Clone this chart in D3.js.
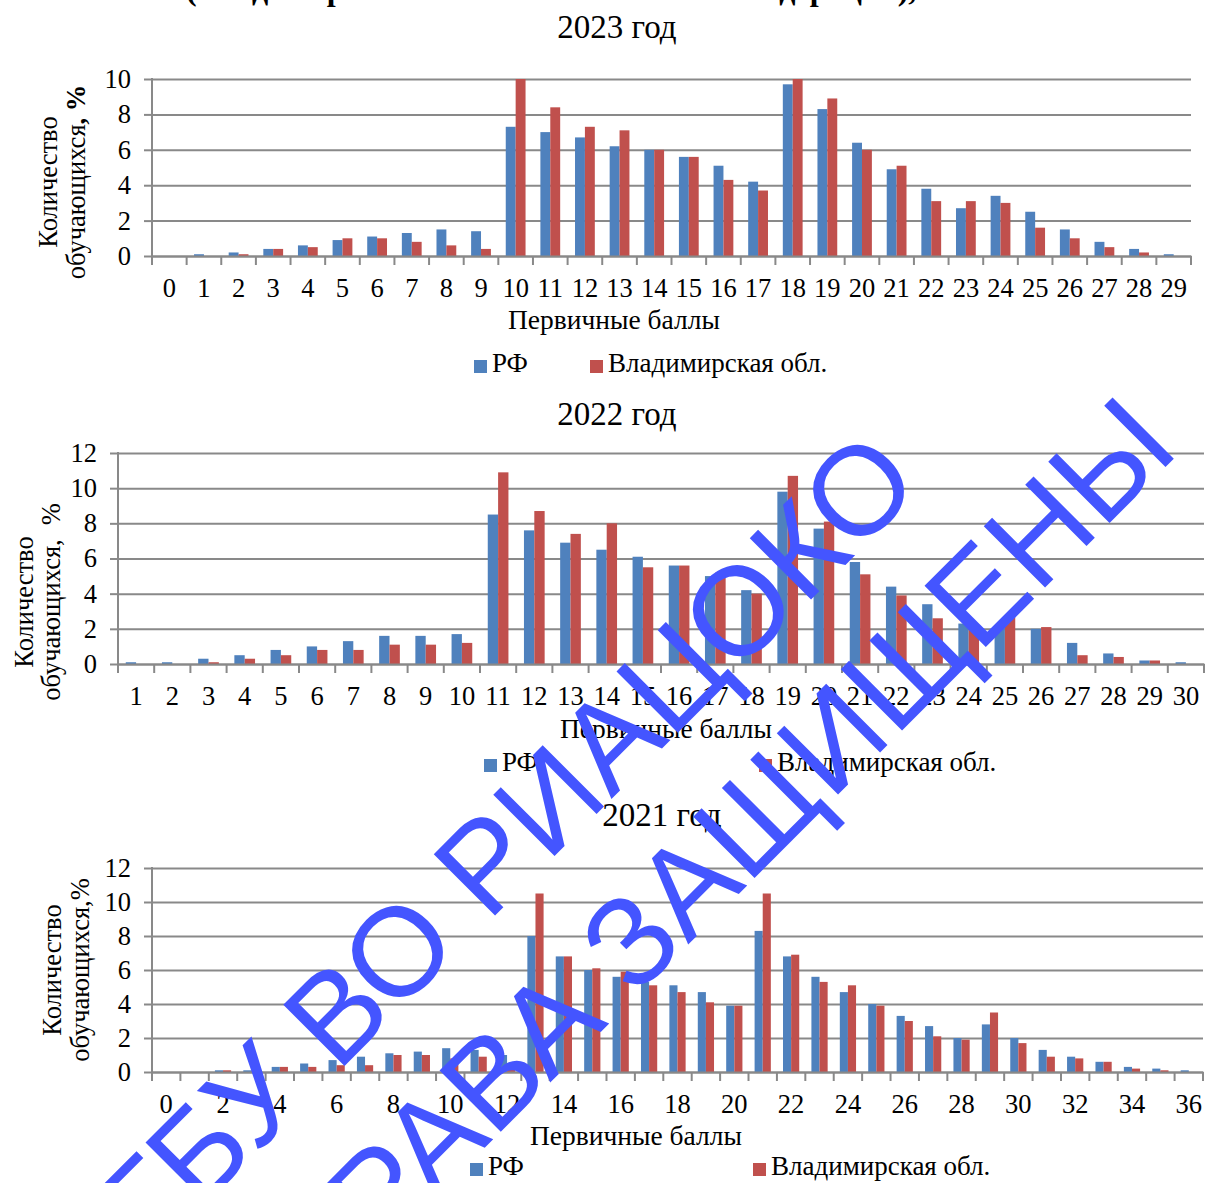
<!DOCTYPE html>
<html><head><meta charset="utf-8">
<script src="https://cdn.jsdelivr.net/npm/d3@7"></script>
<style>body{margin:0;background:#fff}svg{display:block}</style>
</head><body>
<svg id="c" width="1206" height="1183"></svg>
<script>
// ---------------- data ----------------
const seriesNames = ["РФ", "Владимирская обл."];
const chartTitles = ["2023 год", "2022 год", "2021 год"];
const xAxisTitle = "Первичные баллы";

const scores2023 = [0,1,2,3,4,5,6,7,8,9,10,11,12,13,14,15,16,17,18,19,20,21,22,23,24,25,26,27,28,29];
const rf2023   = [0,0.1,0.2,0.4,0.6,0.9,1.1,1.3,1.5,1.4,7.3,7.0,6.7,6.2,6.0,5.6,5.1,4.2,9.7,8.3,6.4,4.9,3.8,2.7,3.4,2.5,1.5,0.8,0.4,0.1];
const vlad2023 = [0,0,0.1,0.4,0.5,1.0,1.0,0.8,0.6,0.4,10.0,8.4,7.3,7.1,6.0,5.6,4.3,3.7,10.0,8.9,6.0,5.1,3.1,3.1,3.0,1.6,1.0,0.5,0.2,0];
const yTicks2023 = [0,2,4,6,8,10];
const xLabels2023 = scores2023;

const scores2022 = [1,2,3,4,5,6,7,8,9,10,11,12,13,14,15,16,17,18,19,20,21,22,23,24,25,26,27,28,29,30];
const rf2022   = [0.1,0.1,0.3,0.5,0.8,1.0,1.3,1.6,1.6,1.7,8.5,7.6,6.9,6.5,6.1,5.6,5.0,4.2,9.8,7.7,5.8,4.4,3.4,2.3,2.2,2.0,1.2,0.6,0.2,0.1];
const vlad2022 = [0,0,0.1,0.3,0.5,0.8,0.8,1.1,1.1,1.2,10.9,8.7,7.4,8.0,5.5,5.6,5.2,4.0,10.7,8.1,5.1,3.9,2.6,2.0,2.7,2.1,0.5,0.4,0.2,0];
const yTicks2022 = [0,2,4,6,8,10,12];
const xLabels2022 = scores2022;

const scores2021 = [0,1,2,3,4,5,6,7,8,9,10,11,12,13,14,15,16,17,18,19,20,21,22,23,24,25,26,27,28,29,30,31,32,33,34,35,36];
const rf2021   = [0,0,0.1,0.1,0.3,0.5,0.7,0.9,1.1,1.2,1.4,1.3,1.0,8.0,6.8,6.0,5.6,5.3,5.1,4.7,3.9,8.3,6.8,5.6,4.7,4.0,3.3,2.7,2.0,2.8,2.0,1.3,0.9,0.6,0.3,0.2,0.1];
const vlad2021 = [0,0,0.1,0.1,0.3,0.3,0.4,0.4,1.0,1.0,0.8,0.9,0.5,10.5,6.8,6.1,5.9,5.1,4.7,4.1,3.9,10.5,6.9,5.3,5.1,3.9,3.0,2.1,1.9,3.5,1.7,0.9,0.8,0.6,0.2,0.1,0];
const yTicks2021 = [0,2,4,6,8,10,12];
const xLabels2021 = [0,2,4,6,8,10,12,14,16,18,20,22,24,26,28,30,32,34,36];

const watermarkLines = ["ФГБУ ВО РИАЦОКО", "ПРАВА ЗАЩИЩЕНЫ"];
const topTitle = "(Владимирская область и Российская Федерация), 2021–2023 гг.";

// ---------------- drawing ----------------
const COLORS = ["#4F81BD", "#C0504D"];
const GRID = "#898989";
const SERIF = "'Liberation Serif','Times New Roman',serif";
const svg = d3.select("#c");

// heading cut off at the very top (only descenders remain visible)
svg.append("text").attr("x", 186).attr("y", -0.5)
  .style("font", `bold 32px ${SERIF}`).attr("fill", "#000").text(topTitle);

function drawChart(cfg) {
  const g = svg.append("g");
  const x = d3.scaleBand().domain(cfg.cats).range([cfg.left, cfg.right]).paddingInner(0).paddingOuter(0);
  const xs = d3.scaleBand().domain([0, 1]).range([0, x.bandwidth()]).paddingInner(0).paddingOuter(0.75);
  const y = d3.scaleLinear().domain([0, d3.max(cfg.yTicks)]).range([cfg.bottom, cfg.top]);

  // gridlines + y ticks
  const gy = g.append("g").attr("transform", `translate(${cfg.left},0)`)
    .call(d3.axisLeft(y).tickValues(cfg.yTicks).tickSizeInner(8).tickSizeOuter(0).tickPadding(13));
  gy.select(".domain").remove();
  gy.selectAll(".tick line").attr("stroke", GRID).attr("stroke-width", 2);
  gy.selectAll(".tick").append("line").attr("x1", 0).attr("x2", cfg.right - cfg.left)
    .attr("stroke", GRID).attr("stroke-width", 2);
  gy.selectAll(".tick text").style("font", `26.5px ${SERIF}`).attr("fill", "#000");

  // bars
  const series = [cfg.rf, cfg.vl];
  series.forEach((vals, si) => {
    g.append("g").selectAll("rect").data(cfg.cats.map((c, i) => ({c, v: vals[i]})))
      .join("rect")
      .attr("x", d => x(d.c) + xs(si))
      .attr("width", xs.bandwidth())
      .attr("y", d => y(d.v))
      .attr("height", d => y(0) - y(d.v))
      .attr("fill", COLORS[si]);
  });

  // y axis line
  g.append("line").attr("x1", cfg.left).attr("x2", cfg.left).attr("y1", cfg.top - 1).attr("y2", cfg.bottom)
    .attr("stroke", GRID).attr("stroke-width", 2);

  // x axis
  const gx = g.append("g").attr("transform", `translate(0,${cfg.bottom})`)
    .call(d3.axisBottom(x).tickSize(0).tickPadding(22)
      .tickFormat(d => cfg.labels.includes(d) ? String(d) : ""));
  gx.select(".domain").attr("stroke", GRID).attr("stroke-width", 2);
  gx.selectAll(".tick text").style("font", `26.5px ${SERIF}`).attr("fill", "#000");
  const bounds = cfg.cats.map(c => x(c)).concat([cfg.right]);
  gx.selectAll(".bnd").data(bounds).join("line").attr("class", "bnd")
    .attr("x1", d => d).attr("x2", d => d).attr("y1", 0).attr("y2", 9)
    .attr("stroke", GRID).attr("stroke-width", 2);

  // chart title
  g.append("text").attr("x", cfg.titleX).attr("y", cfg.titleY).attr("text-anchor", "middle")
    .style("font", `33px ${SERIF}`).text(cfg.title);

  // x axis title
  g.append("text").attr("x", cfg.xTitleX).attr("y", cfg.xTitleY).attr("text-anchor", "middle")
    .style("font", `27.5px ${SERIF}`).text(xAxisTitle);

  // y axis title (two lines, rotated)
  g.append("text").attr("transform", `translate(${cfg.yT1x},${cfg.yTy}) rotate(-90)`)
    .attr("text-anchor", "middle").style("font", `26.5px ${SERIF}`).text("Количество");
  const yt2 = g.append("text").attr("transform", `translate(${cfg.yT2x},${cfg.yTy}) rotate(-90)`)
    .attr("text-anchor", "middle").style("font", `26.5px ${SERIF}`);
  yt2.append("tspan").text("обучающихся");
  cfg.yTitleTail.forEach(p => yt2.append("tspan").attr("font-weight", p.bold ? "bold" : "normal")
    .attr("dx", p.dx || 0).text(p.t));

  // legend
  cfg.legend.forEach((L, i) => {
    g.append("rect").attr("x", L.x).attr("y", cfg.legY - 12).attr("width", 13).attr("height", 13)
      .attr("fill", COLORS[i]);
    g.append("text").attr("x", L.x + 18).attr("y", cfg.legY).style("font", `27px ${SERIF}`)
      .text(seriesNames[i]);
  });
}

drawChart({cats: scores2023, rf: rf2023, vl: vlad2023, yTicks: yTicks2023, labels: xLabels2023,
  left: 152, right: 1191, top: 79, bottom: 256, title: chartTitles[0], titleX: 617, titleY: 38,
  xTitleX: 614, xTitleY: 329, yT1x: 57, yT2x: 85, yTy: 182,
  yTitleTail: [{t: ", %", bold: true}],
  legY: 372, legend: [{x: 474}, {x: 590}]});

drawChart({cats: scores2022, rf: rf2022, vl: vlad2022, yTicks: yTicks2022, labels: xLabels2022,
  left: 118, right: 1204, top: 453, bottom: 664, title: chartTitles[1], titleX: 617, titleY: 425,
  xTitleX: 666, xTitleY: 738, yT1x: 33, yT2x: 60, yTy: 602,
  yTitleTail: [{t: ","}, {t: "%", dx: 14}],
  legY: 771, legend: [{x: 484}, {x: 759}]});

drawChart({cats: scores2021, rf: rf2021, vl: vlad2021, yTicks: yTicks2021, labels: xLabels2021,
  left: 152, right: 1203, top: 868, bottom: 1072, title: chartTitles[2], titleX: 662, titleY: 826,
  xTitleX: 636, xTitleY: 1145, yT1x: 61, yT2x: 89, yTy: 970,
  yTitleTail: [{t: ",%"}],
  legY: 1175, legend: [{x: 470}, {x: 753}]});

// watermark
const wm = [{x: 473, y: 876}, {x: 718, y: 853}];
watermarkLines.forEach((t, i) => {
  svg.append("text").attr("transform", `translate(${wm[i].x},${wm[i].y}) rotate(-45)`)
    .attr("text-anchor", "middle").attr("dominant-baseline", "central")
    .style("font", "126px 'Liberation Sans', Arial, sans-serif").attr("fill", "#4455FF").text(t);
});
</script>
</body></html>
